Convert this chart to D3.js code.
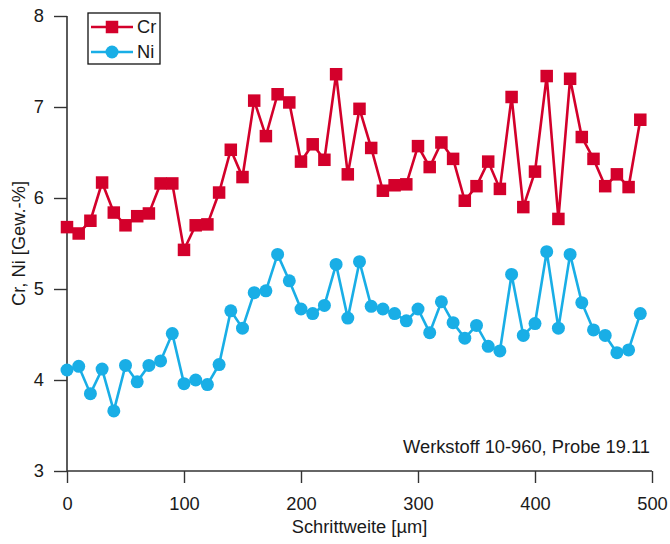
<!DOCTYPE html>
<html><head><meta charset="utf-8">
<script src="https://cdn.jsdelivr.net/npm/d3@7"></script>
<style>html,body{margin:0;padding:0;background:#fff;}svg{display:block;font-family:"Liberation Sans",Arial,sans-serif;}</style>
</head><body>
<svg id="chart" width="670" height="544"></svg>
<script>
const positions = [0,10,20,30,40,50,60,70,80,90,100,110,120,130,140,150,160,170,180,190,200,210,220,230,240,250,260,270,280,290,300,310,320,330,340,350,360,370,380,390,400,410,420,430,440,450,460,470,480,490];
const crValues = [5.68,5.61,5.75,6.17,5.84,5.70,5.80,5.83,6.16,6.16,5.43,5.70,5.71,6.06,6.53,6.23,7.07,6.68,7.14,7.05,6.40,6.59,6.42,7.36,6.26,6.98,6.55,6.08,6.14,6.15,6.57,6.34,6.61,6.43,5.97,6.13,6.40,6.10,7.11,5.90,6.29,7.34,5.77,7.31,6.67,6.43,6.13,6.26,6.12,6.86];
const niValues = [4.11,4.15,3.85,4.12,3.66,4.16,3.98,4.16,4.21,4.51,3.96,4.00,3.95,4.17,4.76,4.57,4.96,4.98,5.38,5.09,4.78,4.73,4.82,5.27,4.68,5.30,4.81,4.78,4.73,4.65,4.78,4.52,4.86,4.63,4.46,4.60,4.37,4.32,5.16,4.49,4.62,5.41,4.57,5.38,4.85,4.55,4.49,4.30,4.33,4.73];
const xTicks = [0,100,200,300,400,500];
const yTicks = [3,4,5,6,7,8];
const seriesNames = ["Cr","Ni"];
const xTitle = "Schrittweite [µm]";
const yTitle = "Cr, Ni [Gew.-%]";
const note = "Werkstoff 10-960, Probe 19.11";

const RED = "#d3002b", BLUE = "#19aee6", AXIS = "#333", TXT = "#1a1a1a";
const FS = 18.3;
const svg = d3.select("#chart");
const m = {left:67, top:16, right:18, bottom:73};
const W = 670, H = 544;
const x = d3.scaleLinear().domain([0,500]).range([m.left, W-m.right]);
const y = d3.scaleLinear().domain([3,8]).range([H-m.bottom, m.top]);

// x axis
const gx = svg.append("g").attr("transform",`translate(0,${y(3)})`);
gx.call(d3.axisBottom(x).tickValues(d3.range(50,500,100)).tickSize(6).tickFormat(""));
gx.call(d3.axisBottom(x).tickValues(xTicks).tickSize(12).tickPadding(14).tickFormat(d3.format("d")));
gx.selectAll(".domain").remove();
gx.append("line").attr("x1",x(0)).attr("x2",x(500)).attr("stroke",AXIS).attr("stroke-width",1.6);

// y axis
const gy = svg.append("g").attr("transform",`translate(${x(0)},0)`);
gy.call(d3.axisLeft(y).tickValues(d3.range(3.25,8,0.25).filter(v=>Math.abs(v-Math.round(v))>0.01)).tickSize(6).tickFormat(""));
gy.call(d3.axisLeft(y).tickValues(yTicks).tickSize(13).tickPadding(10).tickFormat(d3.format("d")));
gy.selectAll(".domain").remove();
gy.append("line").attr("y1",y(3)).attr("y2",y(8)).attr("stroke",AXIS).attr("stroke-width",1.6);

svg.selectAll(".tick line").attr("stroke",AXIS).attr("stroke-width",1.4);
svg.selectAll(".tick text").attr("font-size",FS).attr("fill",TXT).attr("font-family","Liberation Sans, Arial, sans-serif");

// titles
svg.append("text").attr("x",(x(0)+x(500))/2).attr("y",533).attr("text-anchor","middle")
  .attr("font-size",FS).attr("fill",TXT).text(xTitle);
svg.append("text").attr("transform",`translate(19,${(y(3)+y(8))/2}) rotate(-90)`).attr("text-anchor","middle")
  .attr("dy","0.35em").attr("font-size",FS).attr("fill",TXT).text(yTitle);
svg.append("text").attr("x",650).attr("y",453).attr("text-anchor","end")
  .attr("font-size",FS).attr("fill",TXT).text(note);

// series
const crData = positions.map((p,i)=>({x:p,v:crValues[i]}));
const niData = positions.map((p,i)=>({x:p,v:niValues[i]}));
const line = d3.line().x(d=>x(d.x)).y(d=>y(d.v));

svg.append("path").datum(niData).attr("d",line).attr("fill","none").attr("stroke",BLUE).attr("stroke-width",2.6);
svg.append("g").selectAll("circle").data(niData).join("circle")
  .attr("cx",d=>x(d.x)).attr("cy",d=>y(d.v)).attr("r",6.5).attr("fill",BLUE);

svg.append("path").datum(crData).attr("d",line).attr("fill","none").attr("stroke",RED).attr("stroke-width",2.6);
const S = 12.5;
svg.append("g").selectAll("rect").data(crData).join("rect")
  .attr("x",d=>x(d.x)-S/2).attr("y",d=>y(d.v)-S/2).attr("width",S).attr("height",S).attr("fill",RED);

// legend
const lg = svg.append("g");
lg.append("rect").attr("x",88).attr("y",13).attr("width",72).attr("height",51)
  .attr("fill","#fff").attr("stroke","#111").attr("stroke-width",1.3);
const rows = [{name:seriesNames[0],c:RED,shape:"sq",cy:27},{name:seriesNames[1],c:BLUE,shape:"ci",cy:52}];
rows.forEach(r=>{
  lg.append("line").attr("x1",91).attr("x2",133).attr("y1",r.cy).attr("y2",r.cy).attr("stroke",r.c).attr("stroke-width",2.6);
  if(r.shape==="sq") lg.append("rect").attr("x",112-S/2).attr("y",r.cy-S/2).attr("width",S).attr("height",S).attr("fill",r.c);
  else lg.append("circle").attr("cx",112).attr("cy",r.cy).attr("r",6.5).attr("fill",r.c);
  lg.append("text").attr("x",137).attr("y",r.cy).attr("dy","0.35em").attr("font-size",FS).attr("fill",TXT).text(r.name);
});
</script>
</body></html>
